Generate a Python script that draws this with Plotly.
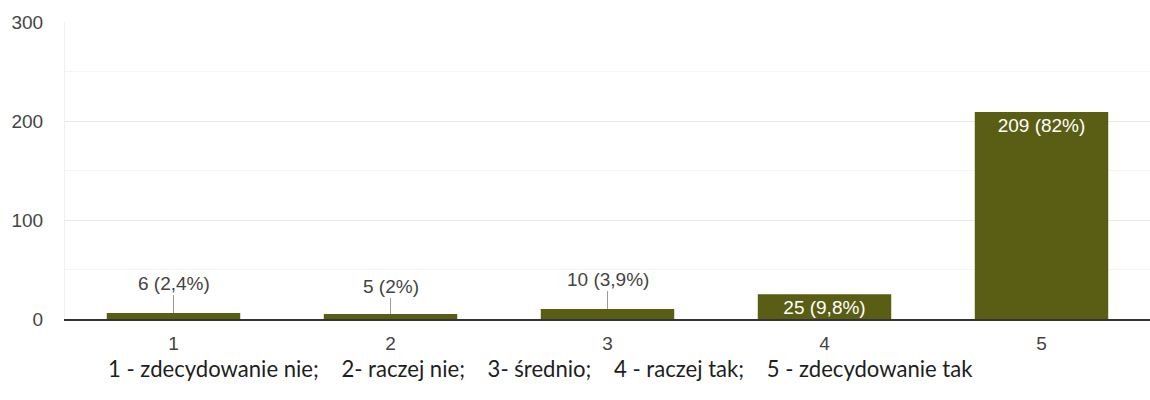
import plotly.graph_objects as go

categories = ["1", "2", "3", "4", "5"]
counts = [6, 5, 10, 25, 209]
labels = ["6 (2,4%)", "5 (2%)", "10 (3,9%)", "25 (9,8%)", "209 (82%)"]
inside = [False, False, False, True, True]
label_offsets = [-30, -28, -30, 0, 0]
y_ticks = [0, 100, 200, 300]
caption = "1 - zdecydowanie nie;    2- raczej nie;    3- średnio;    4 - raczej tak;    5 - zdecydowanie tak"

BAR = "#5a5e14"
TXT = "#444444"
FONT = "Liberation Sans, Arial, sans-serif"
FS = 19

fig = go.Figure()
fig.add_trace(go.Bar(
    x=list(range(len(categories))),
    y=counts,
    marker=dict(color=BAR, line=dict(width=0)),
    text=[l if i else "" for l, i in zip(labels, inside)],
    textposition="inside",
    insidetextanchor="end",
    textfont=dict(color="white", size=FS, family=FONT),
    textangle=0,
    cliponaxis=False,
    hoverinfo="skip",
))

for idx, (v, l, i, off) in enumerate(zip(counts, labels, inside, label_offsets)):
    if not i:
        fig.add_annotation(
            x=idx, y=v, text=l, showarrow=True, arrowhead=0, arrowwidth=1,
            arrowcolor="#9a9a9a", ax=0, ay=off,
            font=dict(size=FS, color=TXT, family=FONT),
        )

fig.add_annotation(
    xref="paper", yref="paper", x=(106 - 65) / 1085, y=(319 - 368) / 297,
    xanchor="left", yanchor="middle", text=caption, showarrow=False,
    font=dict(size=22.1, color="#1e1e1e", family="Lato, Calibri, sans-serif"),
)

fig.update_layout(
    width=1150, height=400,
    margin=dict(l=65, r=0, t=22, b=81),
    plot_bgcolor="white", paper_bgcolor="white",
    bargap=0.385,
    showlegend=False,
    uniformtext=dict(minsize=FS, mode="show"),
    font=dict(family=FONT, color=TXT, size=FS),
)
fig.update_xaxes(
    range=[-0.5, 4.5],
    tickvals=list(range(len(categories))), ticktext=categories,
    showline=True, linecolor="#333333", linewidth=1.5,
    showgrid=False, zeroline=False, ticks="", ticklabelstandoff=6,
    tickfont=dict(size=FS, color=TXT, family=FONT),
)
fig.update_yaxes(
    range=[0, 300], tickvals=y_ticks,
    showgrid=True, gridcolor="#e8e8e8", gridwidth=1,
    minor=dict(dtick=50, showgrid=True, gridcolor="#f4f4f4"),
    zeroline=False, showline=True, linecolor="#efefef", linewidth=1,
    ticks="", ticklabelstandoff=17,
    tickfont=dict(size=FS, color=TXT, family=FONT),
)

fig.write_html(
    "out.html",
    config={"displayModeBar": False},
    post_script="document.body.style.margin='0';document.body.style.overflow='hidden';",
)
